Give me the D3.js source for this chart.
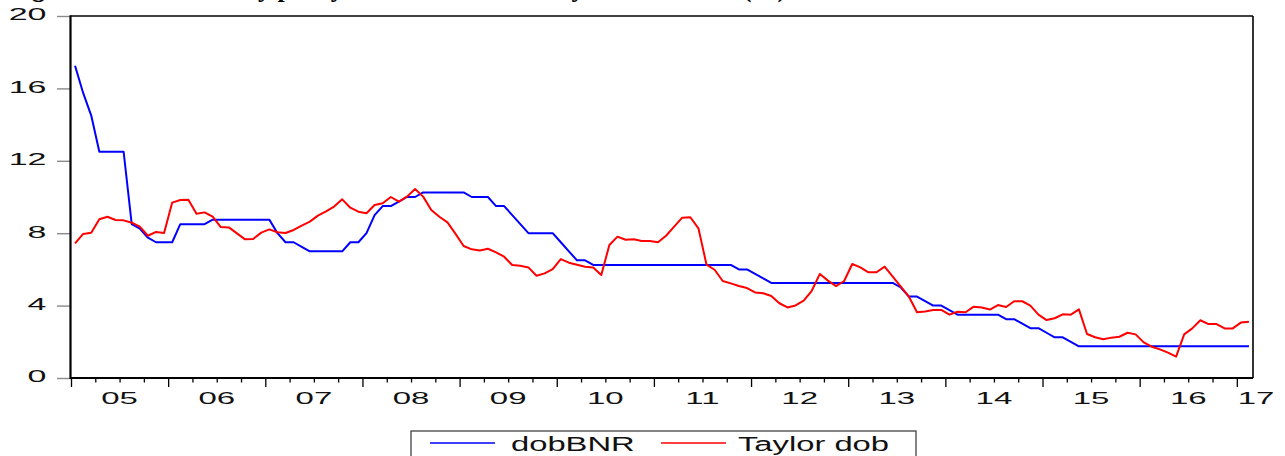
<!DOCTYPE html>
<html>
<head>
<meta charset="utf-8">
<script src="https://cdn.jsdelivr.net/npm/d3@7"></script>
<style>
  html, body { margin: 0; padding: 0; background: #fff; }
  svg { display: block; }
</style>
</head>
<body>
<svg id="chart" width="1285" height="456"></svg>
<script>
// ---------- DATA ----------
const startYear = 2005;
const nObs = 146; // 2005M01 .. 2017M02
const categories = d3.range(nObs).map(i =>
  `${startYear + Math.floor(i / 12)}M${String(i % 12 + 1).padStart(2, "0")}`);

const dobBNR = [
  17.25, 15.75, 14.5, 12.5, 12.5, 12.5, 12.5, 8.5, 8.25, 7.75, 7.5, 7.5,
  7.5, 8.5, 8.5, 8.5, 8.5, 8.75, 8.75, 8.75, 8.75, 8.75, 8.75, 8.75,
  8.75, 8.0, 7.5, 7.5, 7.25, 7.0, 7.0, 7.0, 7.0, 7.0, 7.5, 7.5,
  8.0, 9.0, 9.5, 9.5, 9.75, 10.0, 10.0, 10.25, 10.25, 10.25, 10.25, 10.25,
  10.25, 10.0, 10.0, 10.0, 9.5, 9.5, 9.0, 8.5, 8.0, 8.0, 8.0, 8.0,
  7.5, 7.0, 6.5, 6.5, 6.25, 6.25, 6.25, 6.25, 6.25, 6.25, 6.25, 6.25,
  6.25, 6.25, 6.25, 6.25, 6.25, 6.25, 6.25, 6.25, 6.25, 6.25, 6.0, 6.0,
  5.75, 5.5, 5.25, 5.25, 5.25, 5.25, 5.25, 5.25, 5.25, 5.25, 5.25, 5.25,
  5.25, 5.25, 5.25, 5.25, 5.25, 5.25, 5.0, 4.5, 4.5, 4.25, 4.0, 4.0,
  3.75, 3.5, 3.5, 3.5, 3.5, 3.5, 3.5, 3.25, 3.25, 3.0, 2.75, 2.75,
  2.5, 2.25, 2.25, 2.0, 1.75, 1.75, 1.75, 1.75, 1.75, 1.75, 1.75, 1.75,
  1.75, 1.75, 1.75, 1.75, 1.75, 1.75, 1.75, 1.75, 1.75, 1.75, 1.75, 1.75,
  1.75, 1.75
];

const taylorDob = [
  7.44, 7.96, 8.03, 8.77, 8.91, 8.73, 8.71, 8.58, 8.36, 7.86, 8.07, 8.01,
  9.69, 9.83, 9.85, 9.08, 9.15, 8.91, 8.34, 8.32, 7.99, 7.66, 7.68, 8.03,
  8.21, 8.05, 8.01, 8.18, 8.42, 8.64, 8.97, 9.21, 9.47, 9.87, 9.41, 9.19,
  9.10, 9.56, 9.65, 10.0, 9.74, 10.02, 10.44, 10.02, 9.28, 8.91, 8.60, 7.96,
  7.29, 7.11, 7.05, 7.14, 6.94, 6.70, 6.24, 6.20, 6.11, 5.65, 5.78, 6.02,
  6.57, 6.37, 6.26, 6.15, 6.11, 5.69, 7.35, 7.81, 7.64, 7.66, 7.57, 7.57,
  7.50, 7.86, 8.36, 8.86, 8.88, 8.27, 6.26, 5.98, 5.36, 5.23, 5.08, 4.97,
  4.73, 4.68, 4.53, 4.13, 3.90, 4.01, 4.27, 4.82, 5.75, 5.38, 5.08, 5.36,
  6.30, 6.11, 5.84, 5.84, 6.15, 5.60, 5.05, 4.49, 3.63, 3.68, 3.76, 3.76,
  3.50, 3.66, 3.63, 3.94, 3.89, 3.78, 4.03, 3.92, 4.24, 4.24, 4.00, 3.50,
  3.20, 3.30, 3.52, 3.50, 3.79, 2.43, 2.25, 2.14, 2.23, 2.28, 2.50, 2.41,
  1.97, 1.73, 1.58, 1.40, 1.18, 2.41, 2.74, 3.19, 2.98, 2.98, 2.74, 2.74,
  3.06, 3.11
];

const yTicks = [0, 4, 8, 12, 16, 20];
const yearLabels = ["05","06","07","08","09","10","11","12","13","14","15","16","17"];
const seriesNames = ["dobBNR", "Taylor dob"];
const titleHead = "Figure 4. The monetary policy";
const titleTail = " rate versus the Taylor rule rate (%)";

// ---------- LAYOUT ----------
const svg = d3.select("#chart");
const L = 71, R = 1253, T = 16, B = 378;
const x = d3.scaleLinear().domain([0, nObs]).range([L, R]);
const y = d3.scaleLinear().domain([0, 20]).range([B, T]);
const sansFont = "'Liberation Sans', Arial, sans-serif";

// title, cropped at the top edge as in the reference (only descenders visible)
const title = svg.append("text")
  .attr("x", 9).attr("y", -3)
  .attr("font-family", "'Liberation Serif', 'Times New Roman', serif")
  .attr("font-weight", "bold").attr("font-size", 26);
title.append("tspan").text(titleHead);
title.append("tspan").attr("word-spacing", 6).text(titleTail);

// y axis ticks (grey)
const yAxis = svg.append("g")
  .attr("transform", `translate(${L},0)`)
  .call(d3.axisLeft(y).tickValues(yTicks).tickSize(14).tickFormat(""));
yAxis.select(".domain").remove();
yAxis.selectAll(".tick line").attr("stroke", "#8a8a8a").attr("stroke-width", 1.4);

// y labels (horizontally stretched)
svg.append("g").selectAll("text").data(yTicks).join("text")
  .attr("transform", d => `translate(46.5,${y(d) + 4.3}) scale(2,1)`)
  .attr("text-anchor", "end")
  .attr("font-family", sansFont).attr("font-size", 17)
  .attr("fill", "#111")
  .text(d => d);

// x axis ticks: quarterly minor, yearly major
const minorTicks = d3.range(0, nObs, 3).filter(d => d % 12 !== 0);
const majorTicks = d3.range(0, nObs, 12);
const xMinor = svg.append("g").attr("transform", `translate(0,${B})`)
  .call(d3.axisBottom(x).tickValues(minorTicks).tickSize(4.5).tickFormat(""));
const xMajor = svg.append("g").attr("transform", `translate(0,${B})`)
  .call(d3.axisBottom(x).tickValues(majorTicks).tickSize(9).tickFormat(""));
[xMinor, xMajor].forEach(g => {
  g.select(".domain").remove();
  g.selectAll(".tick line").attr("stroke", "#000").attr("stroke-width", 1.3);
});

// x labels centred on each year (last, partial year placed just past the end)
svg.append("g").selectAll("text").data(yearLabels).join("text")
  .attr("transform", (d, k) => {
    const cx = Math.min(x(k * 12 + 6), x(nObs) + 3);
    return `translate(${cx},403.5) scale(2,1)`;
  })
  .attr("text-anchor", "middle")
  .attr("font-family", sansFont).attr("font-size", 16.5)
  .attr("fill", "#111")
  .text(d => d);

// frame
svg.append("line").attr("x1", L).attr("x2", R).attr("y1", T).attr("y2", T)
  .attr("stroke", "#000").attr("stroke-width", 1.4);
svg.append("line").attr("x1", R).attr("x2", R).attr("y1", T).attr("y2", B)
  .attr("stroke", "#000").attr("stroke-width", 1.6);
svg.append("line").attr("x1", L).attr("x2", R).attr("y1", B).attr("y2", B)
  .attr("stroke", "#000").attr("stroke-width", 2);
svg.append("line").attr("x1", L - 0.5).attr("x2", L - 0.5).attr("y1", T - 0.7).attr("y2", B + 1)
  .attr("stroke", "#000").attr("stroke-width", 2.2);

// series lines
const line = d3.line().x((d, i) => x(i + 0.5)).y(d => y(d));
const colors = ["#0000ff", "#ff0000"];
[dobBNR, taylorDob].forEach((s, k) => {
  svg.append("path").datum(s)
    .attr("d", line)
    .attr("fill", "none")
    .attr("stroke", colors[k])
    .attr("stroke-width", 2)
    .attr("stroke-linejoin", "round");
});

// legend
const lg = svg.append("g");
lg.append("rect").attr("x", 411).attr("y", 431).attr("width", 505).attr("height", 40)
  .attr("fill", "#fff").attr("stroke", "#333").attr("stroke-width", 1.2);
const legendItems = [
  { name: seriesNames[0], color: colors[0], lx: 430, tx: 511 },
  { name: seriesNames[1], color: colors[1], lx: 661, tx: 738 }
];
legendItems.forEach(it => {
  lg.append("line").attr("x1", it.lx).attr("x2", it.lx + 65)
    .attr("y1", 443).attr("y2", 443)
    .attr("stroke", it.color).attr("stroke-width", 1.5);
  lg.append("text")
    .attr("transform", `translate(${it.tx},450.5) scale(1.68,1)`)
    .attr("font-family", sansFont).attr("font-size", 19.5)
    .attr("fill", "#111")
    .text(it.name);
});
</script>
</body>
</html>
